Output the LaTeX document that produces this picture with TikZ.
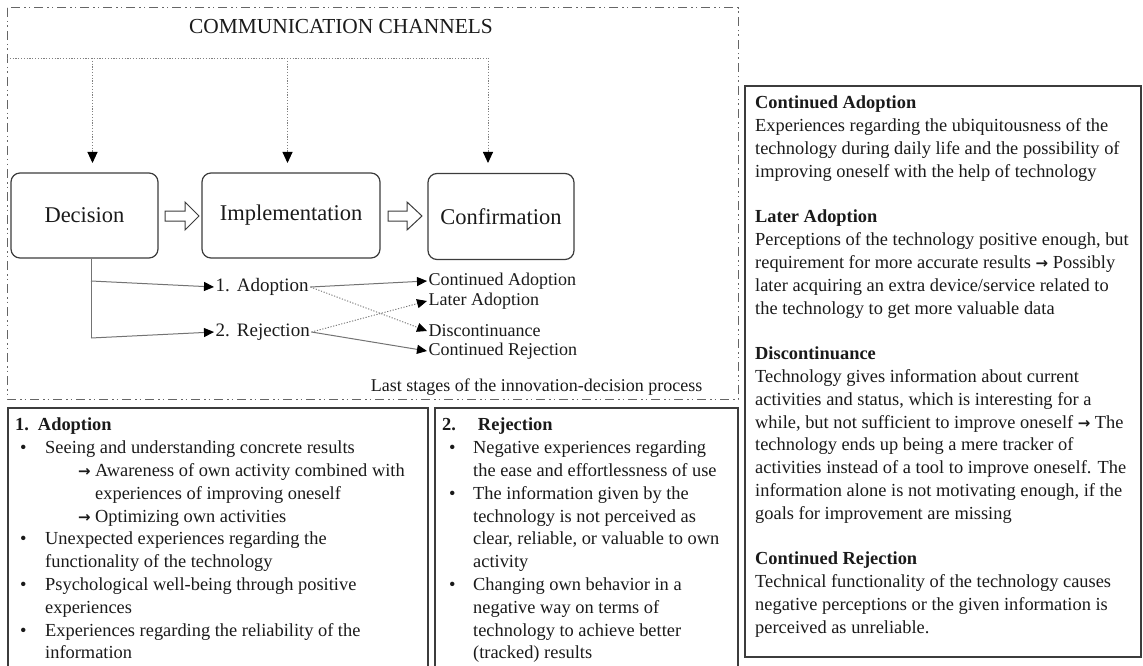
\documentclass[tikz,border=0pt]{standalone}
\usepackage{fontspec}
\setmainfont{Liberation Serif}
\newfontfamily\symfont{DejaVu Sans}
\usetikzlibrary{arrows.meta,calc}
\newcommand\rarr{{\symfont\bfseries\fontsize{15}{15}\selectfont →}}
\newcommand\bul{\makebox[30pt][l]{\hspace{5pt}•}}
\newcommand\sub{\hspace{63pt}\makebox[17pt][l]{\rarr}}
\definecolor{ink}{HTML}{1A1A1A}
\definecolor{rule}{HTML}{3C3C3C}
\begin{document}
\begin{tikzpicture}[x=1pt,y=-1pt,
  every node/.style={text=ink},
  frameline/.style={draw=black!60, line width=1pt,
    dash pattern=on 9pt off 4pt on 1.5pt off 3pt on 1.5pt off 4pt},
  chanline/.style={draw=black!50, line width=0.9pt, dash pattern=on 1.2pt off 1.6pt},
  tip/.style={-{Triangle[width=10pt,length=11pt,color=black]}},
  smalltip/.style={-{Triangle[width=9pt,length=10pt,color=black]}},
  stagebox/.style={draw=rule, line width=1.2pt, rounded corners=9pt,
    minimum height=85pt, font=\fontsize{22.5}{26}\selectfont},
  blockarrow/.style={draw=rule, line width=1pt, fill=white},
  conn/.style={draw=black!55, line width=1pt},
  dotconn/.style={draw=black!55, line width=0.9pt, dash pattern=on 1.2pt off 1.6pt},
  outlab/.style={font=\fontsize{19}{22}\selectfont, inner sep=1.5pt},
  endlab/.style={font=\fontsize{18}{21}\selectfont, inner sep=1.5pt},
  boxline/.style={draw=rule, line width=1.2pt},
  body/.style={font=\fontsize{18.4}{22.8}\selectfont, align=left, inner sep=0pt}
]
\useasboundingbox (0,0) rectangle (1143,666);

% outer dash-dot frame around the stage diagram
\draw[frameline] (7,8) rectangle (738,399);

\node[font=\fontsize{21.4}{25}\selectfont] (title) at (341,27) {COMMUNICATION CHANNELS};

% the three stages
\node[stagebox, minimum width=147pt] (dec) at (84.5,215.5) {Decision};
\node[stagebox, minimum width=178pt] (imp) at (291,215.5) {Implementation};
\node[stagebox, minimum width=146pt, minimum height=86pt] (con) at (501,216.5) {Confirmation};

% communication channels feeding each stage
\coordinate (chL) at (7,58);
\coordinate (c1) at (92.5,58);
\coordinate (c2) at (287.5,58);
\coordinate (c3) at (488,58);
\coordinate (in1) at (92.5,163);
\coordinate (in2) at (287.5,163);
\coordinate (in3) at (488,163);
\draw[chanline] (chL) -- (c3);
\draw[chanline, tip] (c1) -- (in1);
\draw[chanline, tip] (c2) -- (in2);
\draw[chanline, tip] (c3) -- (in3);

% hollow block arrows between the stages
\draw[blockarrow] (165,211) -- (185,211) -- (185,202) -- (199,216) -- (185,230) -- (185,221) -- (165,221) -- cycle;
\draw[blockarrow] (388,211) -- (407,211) -- (407,202) -- (422,216) -- (407,230) -- (407,221) -- (388,221) -- cycle;

% decision outcomes
\node[outlab, anchor=west] (ad) at (214,287) {1.\hspace{7pt}Adoption};
\node[outlab, anchor=west] (rej) at (214,332) {2.\hspace{7pt}Rejection};

\coordinate (b1) at (91,281);
\coordinate (b2) at (91,338);
\coordinate (t0) at (dec.south -| b1);
\draw[conn] (t0) -- (b2);
\draw[conn, smalltip] (b1) -- (ad.west);
\draw[conn, smalltip] (b2) -- (rej.west);

% confirmation outcomes
\node[endlab, anchor=west] (ca) at (427,281) {Continued Adoption};
\node[endlab, anchor=west] (la) at (427,301) {Later Adoption};
\node[endlab, anchor=west] (dis) at (427,331) {Discontinuance};
\node[endlab, anchor=west] (cr) at (427,351) {Continued Rejection};

\draw[conn, smalltip] (ad.east) -- (ca.west);
\draw[dotconn, smalltip] (ad.east) -- (dis.west);
\draw[dotconn, smalltip] (rej.east) -- (la.west);
\draw[conn, smalltip] (rej.east) -- (cr.west);

\node[endlab, anchor=east] (cap) at (704,387) {Last stages of the innovation-decision process};

% adoption and rejection descriptions
\draw[boxline] (8,408) rectangle (428,672);
\draw[boxline] (435,408) rectangle (738,672);

\node[body, anchor=north west] (adtxt) at (15,418) {%
\textbf{1.\hspace{9pt}Adoption}\\
\bul Seeing and understanding concrete results\\
\sub Awareness of own activity combined with\\
\hspace{80pt}experiences of improving oneself\\
\sub Optimizing own activities\\
\bul Unexpected experiences regarding the\\
\hspace{30pt}functionality of the technology\\
\bul Psychological well-being through positive\\
\hspace{30pt}experiences\\
\bul Experiences regarding the reliability of the\\
\hspace{30pt}information};

\node[body, anchor=north west] (rejtxt) at (442,418) {%
\textbf{2.\hspace{22pt}Rejection}\\
\makebox[31pt][l]{\hspace{7pt}•}Negative experiences regarding\\
\hspace{31pt}the ease and effortlessness of use\\
\makebox[31pt][l]{\hspace{7pt}•}The information given by the\\
\hspace{31pt}technology is not perceived as\\
\hspace{31pt}clear, reliable, or valuable to own\\
\hspace{31pt}activity\\
\makebox[31pt][l]{\hspace{7pt}•}Changing own behavior in a\\
\hspace{31pt}negative way on terms of\\
\hspace{31pt}technology to achieve better\\
\hspace{31pt}(tracked) results};

% confirmation outcome descriptions
\draw[boxline] (745,86) rectangle (1141,657);
\node[body, anchor=north west] (outtxt) at (755,96) {%
\textbf{Continued Adoption}\\
Experiences regarding the ubiquitousness of the\\
technology during daily life and the possibility of\\
improving oneself with the help of technology\\[22.8pt]
\textbf{Later Adoption}\\
Perceptions of the technology positive enough, but\\
requirement for more accurate results \rarr{} Possibly\\
later acquiring an extra device/service related to\\
the technology to get more valuable data\\[22.8pt]
\textbf{Discontinuance}\\
Technology gives information about current\\
activities and status, which is interesting for a\\
while, but not sufficient to improve oneself \rarr{} The\\
technology ends up being a mere tracker of\\
activities instead of a tool to improve oneself. The\\
information alone is not motivating enough, if the\\
goals for improvement are missing\\[22.8pt]
\textbf{Continued Rejection}\\
Technical functionality of the technology causes\\
negative perceptions or the given information is\\
perceived as unreliable.};
\end{tikzpicture}
\end{document}
